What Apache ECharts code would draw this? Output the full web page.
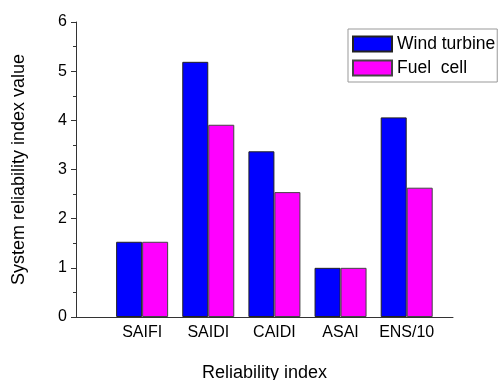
<!DOCTYPE html>
<html>
<head>
<meta charset="utf-8">
<script src="https://cdn.jsdelivr.net/npm/echarts@6/dist/echarts.min.js"></script>
<style>html,body{margin:0;padding:0;background:#fff;}#chart{width:502px;height:380px;}</style>
</head>
<body>
<div id="chart"></div>
<script>
const categories = ['SAIFI', 'SAIDI', 'CAIDI', 'ASAI', 'ENS/10'];
const windTurbine = [1.53, 5.19, 3.37, 1.0, 4.06];
const fuelCell = [1.53, 3.91, 2.54, 1.0, 2.63];
const seriesNames = ['Wind turbine', 'Fuel  cell'];
const yTicks = [0, 1, 2, 3, 4, 5, 6];

const font = '"Liberation Sans", Arial, sans-serif';
const chart = echarts.init(document.getElementById('chart'), null, {renderer: 'canvas'});
const toPairs = arr => arr.map((v, i) => [i + 1, v]);

chart.setOption({
  animation: false,
  backgroundColor: '#fff',
  grid: {left: 76, top: 22, right: 49, bottom: 63, containLabel: false, outerBoundsMode: 'none'},
  legend: {
    orient: 'vertical',
    left: 348,
    top: 29,
    width: 149,
    padding: [6, 2, 5, 4],
    itemGap: 6,
    itemWidth: 39,
    itemHeight: 15,
    borderColor: '#999',
    borderWidth: 1,
    icon: 'rect',
    textStyle: {fontFamily: font, fontSize: 17.5, lineHeight: 15, color: '#000'},
    data: seriesNames
  },
  xAxis: {
    type: 'value',
    min: 0,
    max: 5.7,
    interval: 1,
    name: 'Reliability index',
    nameLocation: 'middle',
    nameGap: 47,
    nameTextStyle: {fontFamily: font, fontSize: 18, color: '#000'},
    axisLine: {show: true, lineStyle: {color: '#333', width: 1}},
    axisTick: {show: false},
    splitLine: {show: false},
    axisLabel: {
      fontFamily: font, fontSize: 16, color: '#000', margin: 8,
      formatter: v => categories[v - 1] || ''
    }
  },
  yAxis: {
    type: 'value',
    min: yTicks[0],
    max: yTicks[yTicks.length - 1],
    interval: 1,
    name: 'System reliability index value',
    nameLocation: 'middle',
    nameGap: 48,
    nameTextStyle: {fontFamily: font, fontSize: 18, color: '#000'},
    axisLine: {show: true, lineStyle: {color: '#333', width: 1}},
    axisTick: {show: true, length: 5, lineStyle: {color: '#333'}},
    minorTick: {show: true, splitNumber: 2, length: 3, lineStyle: {color: '#333'}},
    splitLine: {show: false},
    axisLabel: {fontFamily: font, fontSize: 16, color: '#000', margin: 9}
  },
  series: [
    {
      name: seriesNames[0], type: 'bar', data: toPairs(windTurbine),
      barWidth: 26, barGap: '0%',
      itemStyle: {color: '#0000ff', borderColor: '#222', borderWidth: 1}
    },
    {
      name: seriesNames[1], type: 'bar', data: toPairs(fuelCell),
      barWidth: 26, barGap: '0%',
      itemStyle: {color: '#ff00ff', borderColor: '#444', borderWidth: 1}
    }
  ]
});
</script>
</body>
</html>
